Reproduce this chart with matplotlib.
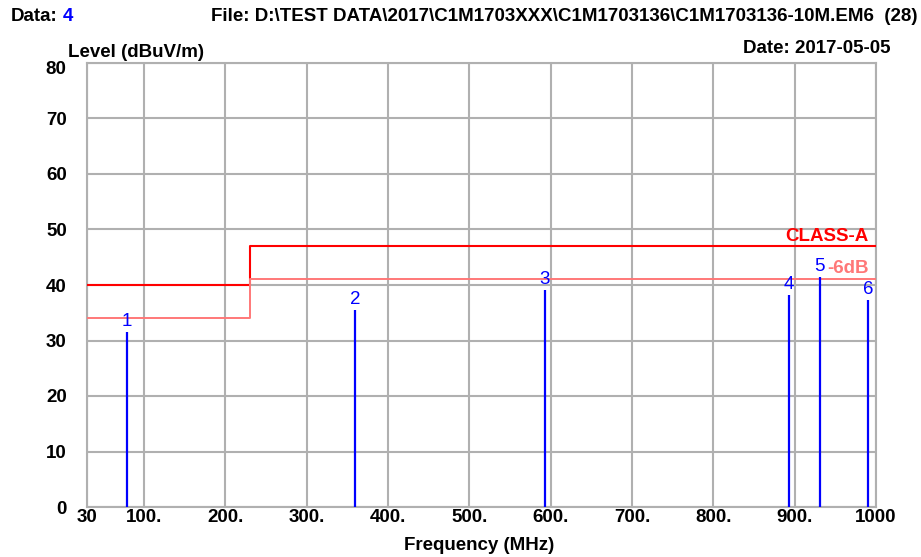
import matplotlib
matplotlib.use("Agg")
import matplotlib.pyplot as plt

plt.rcParams['font.family'] = ['Liberation Sans', 'DejaVu Sans']

# Data
limit_freq = [30, 230, 230, 1000]
limit_level = [40, 40, 47, 47]
margin_level = [34, 34, 41, 41]
marker_ids = ["1", "2", "3", "4", "5", "6"]
marker_freq = [79.2, 359.5, 593.0, 893.0, 931.0, 990.0]
marker_level = [31.5, 35.5, 39.1, 38.2, 41.5, 37.3]
xticks = [30, 100, 200, 300, 400, 500, 600, 700, 800, 900, 1000]
xtick_labels = ["30", "100.", "200.", "300.", "400.", "500.", "600.", "700.", "800.", "900.", "1000"]
yticks = [0, 10, 20, 30, 40, 50, 60, 70, 80]

W, H = 921, 557
FS = 13.5

def fx(px):
    return px / W

def fy(py):
    return 1 - py / H

fig = plt.figure(figsize=(W / 100, H / 100), dpi=100)
ax = fig.add_axes([fx(87), fy(507), (876 - 87) / W, (507 - 63) / H])
ax.set_xlim(30, 1000)
ax.set_ylim(0, 80)

grid_c = '#b0b0b0'
ax.set_xticks(xticks)
ax.set_xticklabels(xtick_labels, fontsize=FS, fontweight='bold')
ax.set_yticks(yticks)
# top label (80) is drawn separately, a little lower, as in the reference
ylabels = [str(v) for v in yticks]
ax.set_yticklabels(ylabels[:-1] + [""], fontsize=FS, fontweight='bold')
ax.tick_params(axis='x', length=0, pad=1.5)
ax.tick_params(axis='y', length=0, pad=14.5)
ax.grid(True, color=grid_c, linewidth=1.5)
ax.set_axisbelow(True)
for s in ax.spines.values():
    s.set_color(grid_c)
    s.set_linewidth(1.5)

fig.text(fx(66), fy(67), ylabels[-1], fontsize=FS, fontweight='bold', ha='right', va='center_baseline')

ax.plot(limit_freq, limit_level, color='#ff0000', linewidth=1.5, zorder=3)
ax.plot(limit_freq, margin_level, color='#ff7878', linewidth=1.4, zorder=3)

for mid, f, l in zip(marker_ids, marker_freq, marker_level):
    ax.vlines(f, 0, l, color='#0000ff', linewidth=1.6, zorder=4)
    ax.text(f, l + 1.1, mid, color='#0000ff', fontsize=FS, ha='center', va='baseline', zorder=5)

ax.text(fx(868), fy(241), "CLASS-A", transform=fig.transFigure, color='#ff0000', fontsize=FS,
        fontweight='bold', ha='right', va='baseline')
ax.text(fx(869), fy(273), "-6dB", transform=fig.transFigure, color='#ff7878', fontsize=FS,
        fontweight='bold', ha='right', va='baseline')

fig.text(fx(479), fy(550), "Frequency (MHz)", fontsize=FS, fontweight='bold', ha='center', va='baseline')

fig.text(fx(11), fy(21), "Data:", fontsize=FS, fontweight='bold', va='baseline', ha='left')
fig.text(fx(63), fy(21), "4", fontsize=FS, fontweight='bold', va='baseline', ha='left', color='#0000ff')
fig.text(fx(917), fy(21), "File: D:\\TEST DATA\\2017\\C1M1703XXX\\C1M1703136\\C1M1703136-10M.EM6  (28)",
         fontsize=FS, fontweight='bold', va='baseline', ha='right')
fig.text(fx(68), fy(57), "Level (dBuV/m)", fontsize=FS, fontweight='bold', va='baseline', ha='left')
fig.text(fx(890), fy(53), "Date: 2017-05-05", fontsize=FS, fontweight='bold', va='baseline', ha='right')

fig.savefig("out.png", dpi=100)
